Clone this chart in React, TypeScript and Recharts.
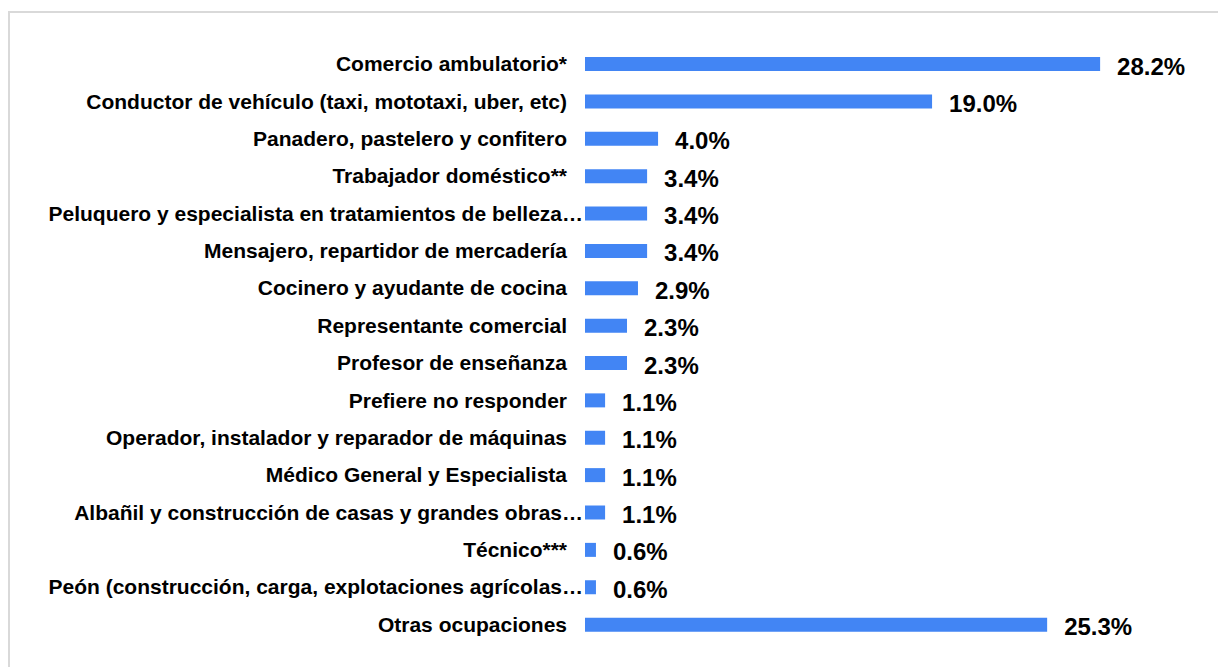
import { Bar, BarChart, LabelList, XAxis, YAxis } from "recharts";

const categories = [
  "Comercio ambulatorio*",
  "Conductor de vehículo (taxi, mototaxi, uber, etc)",
  "Panadero, pastelero y confitero",
  "Trabajador doméstico**",
  "Peluquero y especialista en tratamientos de belleza…",
  "Mensajero, repartidor de mercadería",
  "Cocinero y ayudante de cocina",
  "Representante comercial",
  "Profesor de enseñanza",
  "Prefiere no responder",
  "Operador, instalador y reparador de máquinas",
  "Médico General y Especialista",
  "Albañil y construcción de casas y grandes obras…",
  "Técnico***",
  "Peón (construcción, carga, explotaciones agrícolas…",
  "Otras ocupaciones",
];

const shares = [28.2, 19.0, 4.0, 3.4, 3.4, 3.4, 2.9, 2.3, 2.3, 1.1, 1.1, 1.1, 1.1, 0.6, 0.6, 25.3];

const rows = categories.map((name, i) => ({ name, value: shares[i] }));

const FONT = "'Liberation Sans', Arial, sans-serif";

function CategoryTick(props: any) {
  const { x, y, payload } = props;
  const label: string = payload.value;
  const cut = label.endsWith("…");
  return (
    <text
      x={x - (cut ? 2 : 18)}
      y={y}
      textAnchor="end"
      dominantBaseline="central"
      fontFamily={FONT}
      fontSize={21}
      fontWeight={700}
      fill="#000"
    >
      {label}
    </text>
  );
}

function ValueLabel(props: any) {
  const { x, y, width, height, value } = props;
  return (
    <text
      x={x + width + 17}
      y={y + height / 2 + 2}
      dominantBaseline="central"
      fontFamily={FONT}
      fontSize={24}
      fontWeight={700}
      fill="#000"
    >
      {Number(value).toFixed(1)}%
    </text>
  );
}

export default function App() {
  return (
    <div style={{ position: "fixed", left: 0, top: 0, width: 1218, height: 667, overflow: "hidden", background: "#fff" }}>
      <div
        style={{
          position: "absolute",
          left: 8,
          top: 11,
          width: 1300,
          height: 800,
          borderTop: "2px solid #d9d9d9",
          borderLeft: "2px solid #d9d9d9",
        }}
      />
      <div style={{ position: "absolute", left: 0, top: 0 }}>
        <BarChart
          width={1218}
          height={667}
          data={rows}
          layout="vertical"
          margin={{ top: 45, right: 85, left: 0, bottom: 24 }}
        >
          <XAxis type="number" domain={[0, 30]} hide />
          <YAxis
            type="category"
            dataKey="name"
            width={585}
            axisLine={false}
            tickLine={false}
            tickSize={0}
            tickMargin={0}
            interval={0}
            tick={<CategoryTick />}
          />
          <Bar dataKey="value" fill="#4285f4" barSize={14} isAnimationActive={false}>
            <LabelList dataKey="value" content={<ValueLabel />} />
          </Bar>
        </BarChart>
      </div>
    </div>
  );
}
